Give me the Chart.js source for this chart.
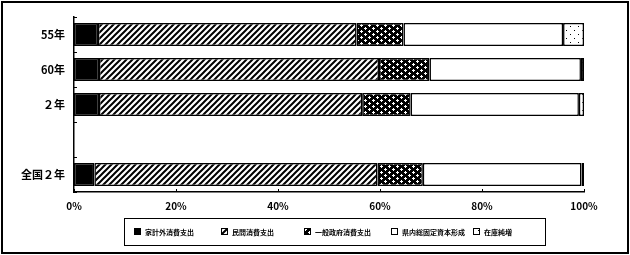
<!DOCTYPE html>
<html lang="ja">
<head>
  <meta charset="UTF-8">
  <title>最終需要構成比</title>
  <script src="https://cdn.jsdelivr.net/npm/chart.js"></script>
  <style>
    body { margin: 0; background: #fff; }
  </style>
</head>
<body>
  <canvas id="demandChart" width="630" height="255"></canvas>
  <script>
    // categories (blank row between prefecture years and national figure)
    const categories = ['55年', '60年', '２年', '', '全国２年'];
    const seriesNames = ['家計外消費支出', '民間消費支出', '一般政府消費支出', '県内総固定資本形成', '在庫純増'];

    // shares in %
    const kakeigai = [4.7, 4.9, 4.9, null, 4.0];
    const minkan   = [50.7, 54.9, 51.6, null, 55.5];
    const seifu    = [9.2, 9.9, 9.5, null, 8.9];
    const shihon   = [31.3, 29.7, 33.0, null, 31.1];
    const zaiko    = [4.1, 0.6, 1.0, null, 0.5];

    const xTicks = [0, 20, 40, 60, 80, 100];

    // fill patterns, like the old monochrome office chart
    function makePattern(w, h, draw) {
      const c = document.createElement('canvas');
      c.width = w; c.height = h;
      const g = c.getContext('2d');
      draw(g, w, h);
      return document.getElementById('demandChart').getContext('2d').createPattern(c, 'repeat');
    }

    const hatch = makePattern(6, 6, (g, w, h) => {
      g.fillStyle = '#fff';
      g.fillRect(0, 0, w, h);
      g.strokeStyle = '#000';
      g.lineWidth = 2;
      g.beginPath();
      g.moveTo(-1, h + 1); g.lineTo(w + 1, -1);
      g.moveTo(-1 - w, h + 1); g.lineTo(1, -1);
      g.moveTo(w - 1, h + 1); g.lineTo(2 * w + 1, -1);
      g.stroke();
    });

    const cross = makePattern(8, 6, (g, w, h) => {
      g.fillStyle = '#000';
      g.fillRect(0, 0, w, h);
      g.fillStyle = '#fff';
      [[1, 1], [5, 4]].forEach(([x, y]) => {
        g.fillRect(x, y, 1, 1);
        g.fillRect(x - 1, y, 3, 1);
        g.fillRect(x, y - 1, 1, 3);
      });
    });

    const dots = makePattern(8, 8, (g, w, h) => {
      g.fillStyle = '#fff';
      g.fillRect(0, 0, w, h);
      g.fillStyle = '#000';
      g.fillRect(2, 2, 1, 1);
      g.fillRect(6, 6, 1, 1);
    });

    const fills = ['#000', hatch, cross, '#fff', dots];
    const values = [kakeigai, minkan, seifu, shihon, zaiko];

    // frame, inward ticks and the boxed legend
    const decorations = {
      id: 'decorations',
      afterDraw(chart) {
        const ctx = chart.ctx;
        const area = chart.chartArea;
        const xs = chart.scales.x;
        ctx.save();
        ctx.strokeStyle = '#000';
        ctx.lineWidth = 1;
        ctx.beginPath();
        xTicks.forEach(v => {
          const px = Math.round(xs.getPixelForValue(v)) + 0.5;
          ctx.moveTo(px, area.bottom);
          ctx.lineTo(px, area.bottom - 3);
        });
        const step = (area.bottom - area.top) / categories.length;
        for (let i = 0; i <= categories.length; i++) {
          const py = Math.round(area.top + i * step) + 0.5;
          ctx.moveTo(area.left, py);
          ctx.lineTo(area.left + 3, py);
        }
        ctx.stroke();

        // legend
        ctx.lineWidth = 1;
        ctx.strokeRect(124.5, 218.5, 421, 27);
        const boxX = [134, 221, 304, 391, 473];
        ctx.font = 'bold 7px "Noto Sans CJK JP"';
        ctx.textBaseline = 'middle';
        seriesNames.forEach((name, i) => {
          ctx.fillStyle = fills[i];
          ctx.fillRect(boxX[i], 228, 7, 7);
          ctx.strokeRect(boxX[i] + 0.5, 228.5, 6, 6);
          ctx.fillStyle = '#000';
          ctx.fillText(name, boxX[i] + 11, 232);
        });

        // outer frame
        ctx.lineWidth = 2;
        ctx.strokeRect(2, 2, 626, 251);
        ctx.restore();
      }
    };

    new Chart(document.getElementById('demandChart'), {
      type: 'bar',
      data: {
        labels: categories,
        datasets: seriesNames.map((name, i) => ({
          label: name,
          data: values[i],
          backgroundColor: fills[i],
          borderColor: '#000',
          borderWidth: 1.5,
          borderSkipped: false,
          barPercentage: 0.66,
          categoryPercentage: 1
        }))
      },
      options: {
        indexAxis: 'y',
        responsive: false,
        animation: false,
        layout: { padding: { top: 17, right: 46, left: 0, bottom: 0 } },
        plugins: {
          legend: { display: false },
          tooltip: { enabled: false }
        },
        scales: {
          x: {
            stacked: true,
            min: 0,
            max: 100,
            afterFit(scale) { scale.height = 63; },
            afterBuildTicks(scale) { scale.ticks = xTicks.map(v => ({ value: v })); },
            grid: { display: false, drawTicks: false },
            border: { display: true, color: '#000', width: 1.5 },
            ticks: {
              padding: 8,
              color: '#000',
              font: { family: '"Noto Sans CJK JP"', size: 10, weight: 'bold' },
              callback: v => v + '%'
            }
          },
          y: {
            stacked: true,
            afterFit(scale) { scale.width = 74; },
            grid: { display: false, drawTicks: false },
            border: { display: true, color: '#000', width: 1.5 },
            ticks: {
              padding: 9,
              color: '#000',
              font: { family: '"Noto Sans CJK JP"', size: 11, weight: 'bold' }
            }
          }
        }
      },
      plugins: [decorations]
    });
  </script>
</body>
</html>
